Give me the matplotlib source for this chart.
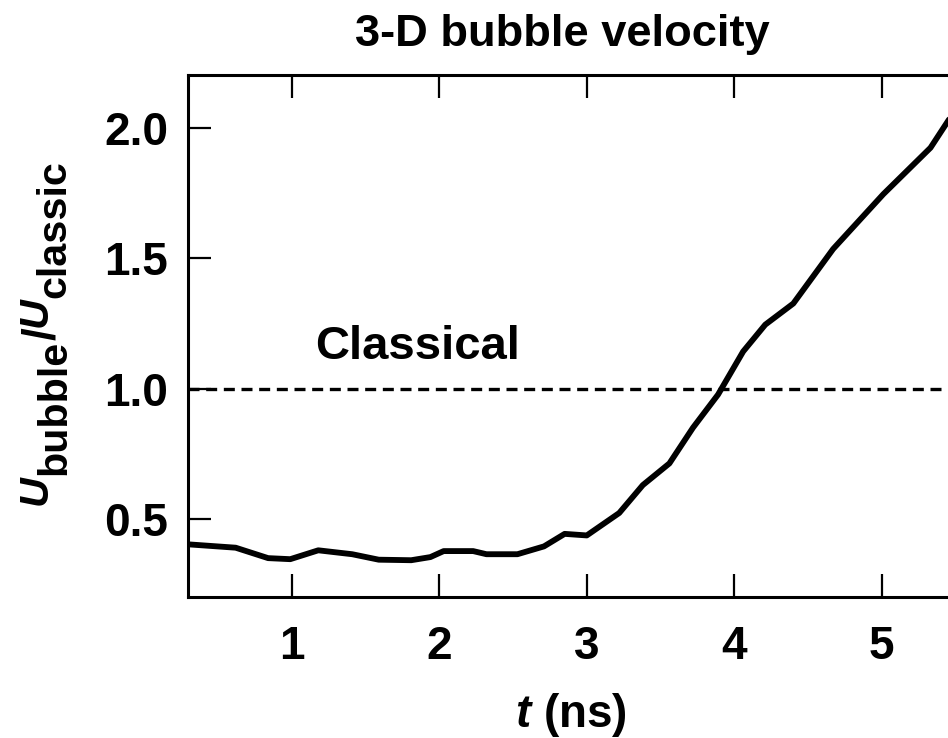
import matplotlib
matplotlib.use("Agg")
import matplotlib.pyplot as plt

# Data
t_ns = [0.295, 0.62, 0.84, 0.99, 1.18, 1.41, 1.59, 1.81, 1.94, 2.03, 2.23, 2.32,
        2.53, 2.71, 2.85, 3.00, 3.22, 3.38, 3.56, 3.72, 3.89, 4.06, 4.21, 4.40,
        4.67, 5.01, 5.33, 5.50]
u_ratio = [0.403, 0.390, 0.350, 0.346, 0.380, 0.365, 0.344, 0.342, 0.354, 0.377,
           0.377, 0.365, 0.365, 0.395, 0.443, 0.437, 0.523, 0.630, 0.713, 0.850,
           0.977, 1.142, 1.245, 1.326, 1.535, 1.745, 1.923, 2.07]
classical_level = 1.0
x_ticks = [1, 2, 3, 4, 5]
y_ticks = [0.5, 1.0, 1.5, 2.0]

plt.rcParams['font.family'] = ['Liberation Sans', 'DejaVu Sans']
plt.rcParams['font.weight'] = 'bold'
plt.rcParams['mathtext.fontset'] = 'custom'
plt.rcParams['mathtext.rm'] = 'Liberation Sans:bold'
plt.rcParams['mathtext.bf'] = 'Liberation Sans:bold'
plt.rcParams['mathtext.it'] = 'Liberation Sans:bold:italic'
plt.rcParams['mathtext.bfit'] = 'Liberation Sans:bold:italic'

W, H = 948, 738
fig = plt.figure(figsize=(W / 100, H / 100), dpi=100)
ax = fig.add_axes([0.198, 0.1907, 0.81, 0.707])

ax.plot(t_ns, u_ratio, color='black', lw=4.2, solid_capstyle='round',
        solid_joinstyle='round')
ax.axhline(classical_level, color='black', lw=2.4, dashes=(3.3, 2.0))

ax.set_xlim(0.295, 5.5)
ax.set_ylim(0.2, 2.2)
ax.set_xticks(x_ticks)
ax.set_yticks(y_ticks)
ax.set_xticklabels([str(v) for v in x_ticks])
ax.set_yticklabels([f"{v:.1f}" for v in y_ticks])

for s in ax.spines.values():
    s.set_linewidth(2.2)
ax.spines['right'].set_visible(False)
ax.tick_params(axis='both', direction='in', length=16.5, width=1.6,
               labelsize=33)
ax.tick_params(axis='x', top=True, pad=20)
ax.tick_params(axis='y', right=False, pad=14)
for lbl in ax.get_xticklabels() + ax.get_yticklabels():
    lbl.set_fontweight('bold')

ax.text(1.16, 1.16, 'Classical', fontsize=34, fontweight='bold',
        ha='left', va='center')

fig.text(562 / W, 0.953, '3-D bubble velocity', fontsize=32.6, fontweight='bold',
         ha='center', va='center')
fig.text(571 / W, 0.015, r'$\mathit{t}$ (ns)', fontsize=33, fontweight='bold',
         ha='center', va='baseline')

# y label built from pieces: large subscripts, as in the reference
renderer = fig.canvas.get_renderer()
pieces = [('U', 'italic', 47.0, 29.7), ('bubble', 'normal', 65.0, 29.7),
          ('/', 'normal', 55.0, 33.0), ('U', 'italic', 47.0, 29.7),
          ('classic', 'normal', 65.0, 29.7)]
y_cur = H - 505.0
for txt, style, xb, fs in pieces:
    tt = fig.text(xb / W, y_cur / H, txt, fontsize=fs, fontweight='bold',
                  fontstyle=style, rotation=90, rotation_mode='anchor',
                  ha='left', va='baseline')
    bb = tt.get_window_extent(renderer)
    y_cur += bb.height

fig.savefig('out.png', dpi=100)
